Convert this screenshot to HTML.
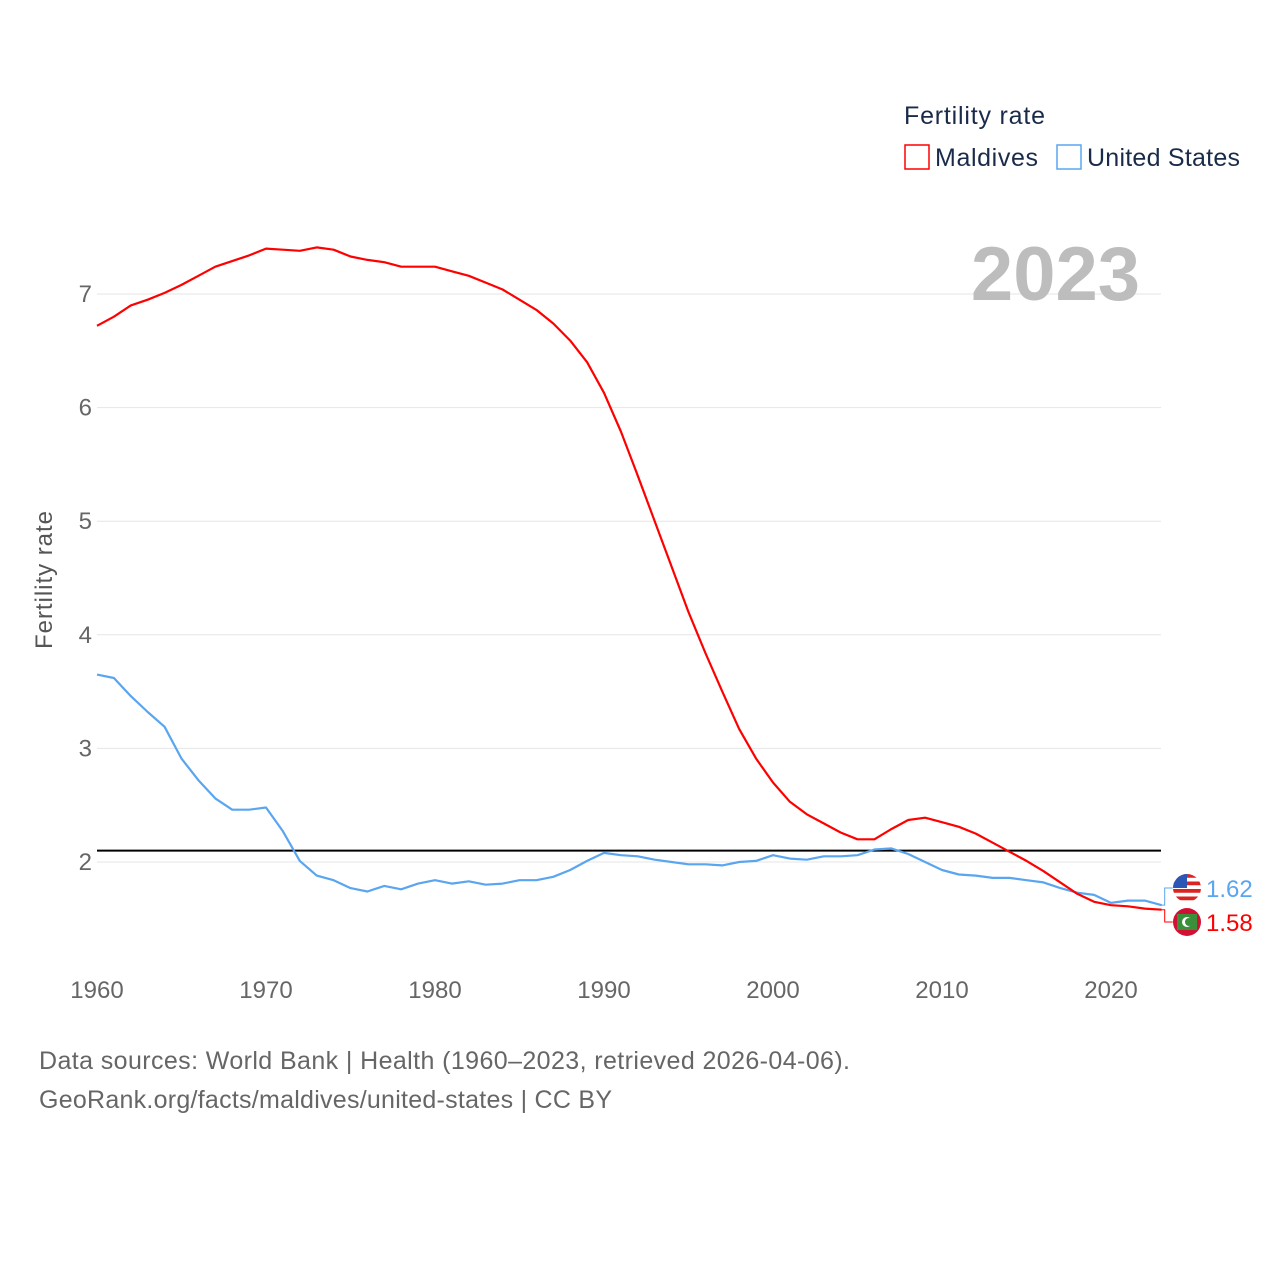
<!DOCTYPE html>
<html><head><meta charset="utf-8"><style>
body{margin:0;background:#fff;font-family:"Liberation Sans",sans-serif;}
svg text{font-family:"Liberation Sans",sans-serif;}
</style></head><body>
<svg id="chart" width="1280" height="1280" xmlns="http://www.w3.org/2000/svg">
<defs><clipPath id="usclip"><circle cx="1187" cy="888" r="14"/></clipPath><clipPath id="mvclip"><circle cx="1187" cy="922" r="14"/></clipPath></defs>
<rect width="1280" height="1280" fill="#fff"/>
<g id="grid"></g>
<g id="xticks"></g>
<text x="52" y="580" transform="rotate(-90 52 580)" text-anchor="middle" font-size="24" fill="#555" textLength="138">Fertility rate</text>
<text x="1140" y="300" text-anchor="end" font-size="76" font-weight="bold" fill="#bdbdbd">2023</text>
<text x="904" y="124" font-size="25" fill="#1a2b4a" textLength="141">Fertility rate</text>
<g><rect x="905" y="145" width="24" height="24" fill="none" stroke="#f00" stroke-width="1.5"/><text x="935" y="166" font-size="25" fill="#1a2b4a" textLength="103">Maldives</text></g>
<g><rect x="1057" y="145" width="24" height="24" fill="none" stroke="#5aa5f0" stroke-width="1.5"/><text x="1087" y="166" font-size="25" fill="#1a2b4a" textLength="153">United States</text></g>
<g id="series"></g>
<text x="39" y="1069" font-size="25" fill="#666" textLength="811">Data sources: World Bank | Health (1960–2023, retrieved 2026-04-06).</text>
<text x="39" y="1108" font-size="25" fill="#666" textLength="573">GeoRank.org/facts/maldives/united-states | CC BY</text>
</svg>
<script>
const years=[];for(let y=1960;y<=2023;y++)years.push(y);
const maldives=[6.72,6.80,6.90,6.95,7.01,7.08,7.16,7.24,7.29,7.34,7.40,7.39,7.38,7.41,7.39,7.33,7.30,7.28,7.24,7.24,7.24,7.20,7.16,7.10,7.04,6.95,6.86,6.74,6.59,6.40,6.13,5.79,5.40,5.00,4.60,4.20,3.84,3.50,3.17,2.91,2.70,2.53,2.42,2.34,2.26,2.20,2.20,2.29,2.37,2.39,2.35,2.31,2.25,2.17,2.09,2.01,1.92,1.82,1.72,1.65,1.62,1.61,1.59,1.58];
const usa=[3.65,3.62,3.46,3.32,3.19,2.91,2.72,2.56,2.46,2.46,2.48,2.27,2.01,1.88,1.84,1.77,1.74,1.79,1.76,1.81,1.84,1.81,1.83,1.80,1.81,1.84,1.84,1.87,1.93,2.01,2.08,2.06,2.05,2.02,2.00,1.98,1.98,1.97,2.00,2.01,2.06,2.03,2.02,2.05,2.05,2.06,2.11,2.12,2.07,2.00,1.93,1.89,1.88,1.86,1.86,1.84,1.82,1.77,1.73,1.71,1.64,1.66,1.66,1.62];
const yTicks=[2,3,4,5,6,7];
const xTicks=[1960,1970,1980,1990,2000,2010,2020];
const replacement=2.1;
const NS="http://www.w3.org/2000/svg";
const xs=y=>97+(y-1960)*16.9;
const ys=v=>862-(v-2)*113.6;
function mk(tag,attrs,parent){const e=document.createElementNS(NS,tag);for(const k in attrs)e.setAttribute(k,attrs[k]);parent.appendChild(e);return e;}
const grid=document.getElementById('grid'),xt=document.getElementById('xticks'),ser=document.getElementById('series');
yTicks.forEach(v=>{
 const l=mk('line',{x1:97,x2:1161,y1:ys(v),y2:ys(v),stroke:'#e6e6e6','stroke-width':1},grid);
 
 
 const t=mk('text',{x:92,y:ys(v)+8,'text-anchor':'end','font-size':24,fill:'#666'},grid);t.textContent=v;
 
 
});
xTicks.forEach(y=>{
 const t=mk('text',{x:xs(y),y:998,'text-anchor':'middle','font-size':24,fill:'#666'},xt);t.textContent=y;
 
 
});
const rl=mk('line',{x1:97,x2:1161,y1:ys(replacement),y2:ys(replacement),stroke:'#000','stroke-width':2},ser);


function line(data,color,name){
 const d=data.map((v,i)=>(i?'L':'M')+xs(years[i]).toFixed(1)+','+ys(v).toFixed(1)).join('');
 const p=mk('path',{d:d,fill:'none',stroke:color,'stroke-width':2.2,'stroke-linejoin':'round'},ser);
 
 
}
line(usa,'#5aa5f0','line-united-states');
line(maldives,'#f00','line-maldives');
const lx=xs(2023);
function endLabel(v,ly,color,name,flag){
 const c=mk('path',{d:`M${lx},${ys(v)}h3V${ly}h8`,fill:'none',stroke:color,'stroke-width':1},ser);
 
 
 const g=mk('g',{'clip-path':flag==='us'?'url(#usclip)':'url(#mvclip)'},ser);
 
 
 if(flag==='us'){
  mk('rect',{x:1173,y:ly-14,width:28,height:28,fill:'#fff'},g);
  for(let i=0;i<4;i++)mk('rect',{x:1173,y:ly-14+i*7.5,width:28,height:3.75,fill:'#d22'},g);
  mk('rect',{x:1173,y:ly-14,width:14,height:14,fill:'#2a56b5'},g);
 }else{
  mk('rect',{x:1173,y:ly-14,width:28,height:28,fill:'#d21034'},g);
  mk('rect',{x:1177,y:ly-8,width:20,height:16,fill:'#3a8f3a'},g);
  mk('circle',{cx:1187,cy:ly,r:5,fill:'#fff'},g);
  mk('circle',{cx:1189,cy:ly,r:4,fill:'#3a8f3a'},g);
 }
 const t=mk('text',{x:1206,y:ly+9,'font-size':24,fill:color},ser);t.textContent=v.toFixed(2);
 
 
}
endLabel(usa[usa.length-1],888,'#5aa5f0','end-label-united-states','us');
endLabel(maldives[maldives.length-1],922,'#f00','end-label-maldives','mv');
</script>
</body></html>
